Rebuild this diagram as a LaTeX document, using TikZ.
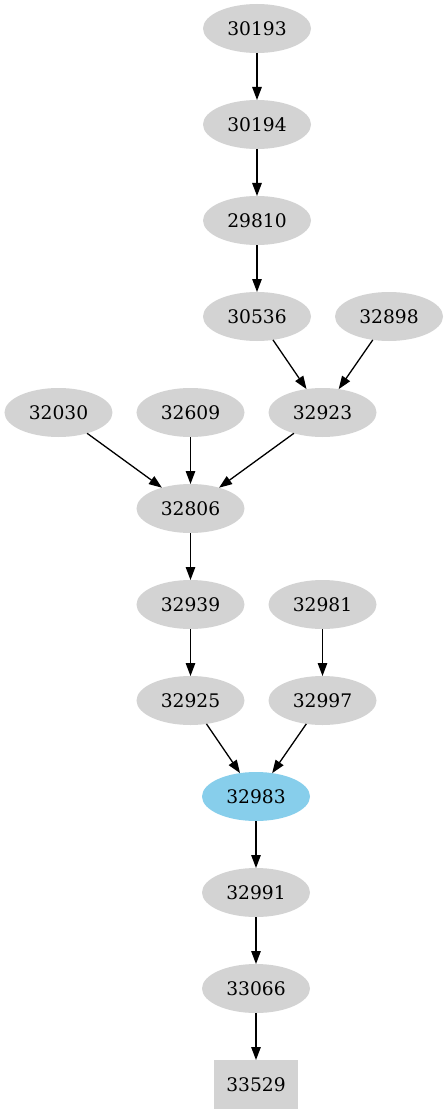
\documentclass[tikz,border=0pt]{standalone}
\usepackage{fontspec}
\usepackage{tikz}
\usetikzlibrary{positioning,arrows.meta,shapes.geometric}
\newfontfamily\dvserif{DejaVu Serif}
\definecolor{lightgrey}{HTML}{D3D3D3}
\definecolor{skyblue}{HTML}{87CEEB}
\tikzset{
  job/.style={ellipse,fill=lightgrey,minimum width=108pt,minimum height=49pt,inner sep=0pt,outer sep=0pt},
  last/.style={rectangle,fill=lightgrey,minimum width=84pt,minimum height=49pt,inner sep=0pt,outer sep=0pt},
  >={Triangle[length=13pt,width=9.5pt]},
}

\begin{document}
\begin{tikzpicture}[
  ->,line width=1.3pt,
  node distance=47pt and 24pt,
  every node/.style={font=\dvserif\fontsize{18.67}{20}\selectfont}
]
\useasboundingbox (-257pt,28.5pt) rectangle (190pt,-1086.5pt);

\node[job] (n30193) {30193};
\node[job,below=of n30193] (n30194) {30194};
\node[job,below=of n30194] (n29810) {29810};
\node[job,below=of n29810] (n30536) {30536};
\node[job,right=of n30536] (n32898) {32898};

\node[job,below=of n30536,xshift=65.5pt] (n32923) {32923};
\node[job,left=of n32923] (n32609) {32609};
\node[job,left=of n32609] (n32030) {32030};

\node[job,below=of n32609] (n32806) {32806};
\node[job,below=of n32806] (n32939) {32939};
\node[job,right=of n32939] (n32981) {32981};
\node[job,below=of n32939] (n32925) {32925};
\node[job,below=of n32981] (n32997) {32997};

\node[job,fill=skyblue,below=of n32925,xshift=65.5pt] (n32983) {32983};
\node[job,below=of n32983] (n32991) {32991};
\node[job,below=of n32991] (n33066) {33066};
\node[last,below=of n33066] (n33529) {33529};

\path
(n30193) edge (n30194)
(n30194) edge (n29810)
(n29810) edge (n30536)
(n30536) edge (n32923)
(n32898) edge (n32923)

(n32030) edge (n32806)
(n32609) edge (n32806)
(n32923) edge (n32806)

(n32806) edge (n32939)
(n32939) edge (n32925)
(n32981) edge (n32997)
(n32925) edge (n32983)
(n32997) edge (n32983)

(n32983) edge (n32991)
(n32991) edge (n33066)
(n33066) edge (n33529);

\end{tikzpicture}
\end{document}
